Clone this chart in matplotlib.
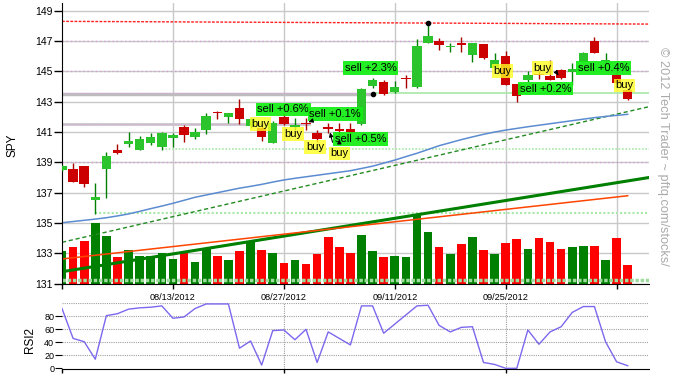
import numpy as np
import matplotlib.pyplot as plt

plt.rcParams['font.family'] = ['Liberation Sans', 'DejaVu Sans']

# SPY daily candles, 07/30/2012 .. 10/10/2012 (trading-day index on x)
opens = [138.50, 138.56, 138.76, 136.52, 138.56, 139.82, 140.23, 139.82, 140.30, 140.03,
         140.63, 141.33, 140.69, 141.14, 142.35, 142.01, 142.60, 141.40, 141.30, 140.30,
         142.00, 141.35, 141.60, 140.96, 141.32, 141.18, 141.18, 141.50, 144.04, 144.32,
         143.66, 144.52, 144.00, 146.89, 147.00, 146.60, 146.85, 146.08, 146.78, 145.20,
         146.03, 144.17, 144.43, 144.85, 144.72, 145.09, 144.99, 145.64, 147.02, 145.66,
         144.76, 143.80]
highs = [138.80, 138.94, 138.76, 137.62, 139.69, 140.20, 141.00, 140.74, 140.96, 141.02,
         140.96, 141.46, 141.27, 142.24, 142.39, 142.28, 143.18, 141.90, 141.50, 141.70,
         142.20, 141.90, 141.90, 141.13, 141.60, 141.58, 141.58, 143.90, 144.54, 144.43,
         144.39, 144.76, 147.11, 148.17, 147.18, 146.89, 147.25, 146.85, 146.78, 146.19,
         146.34, 144.17, 145.03, 145.00, 145.75, 145.15, 145.53, 146.30, 147.29, 146.23,
         145.00, 143.90]
lows = [138.45, 137.70, 137.40, 135.60, 136.67, 139.55, 140.03, 139.82, 140.13, 139.82,
        140.03, 140.36, 140.56, 140.85, 141.88, 141.62, 141.51, 141.30, 140.41, 140.25,
        141.45, 141.14, 141.14, 140.36, 140.92, 140.70, 140.80, 141.45, 143.88, 143.44,
        143.56, 143.92, 143.90, 146.89, 146.41, 146.30, 146.30, 145.64, 145.85, 145.20,
        144.10, 143.00, 144.30, 144.50, 144.40, 144.50, 144.10, 145.60, 146.19, 145.50,
        144.20, 143.10]
closes = [138.76, 137.70, 137.60, 136.74, 139.42, 139.64, 140.41, 140.54, 140.67, 140.94,
          140.80, 140.83, 141.02, 142.06, 142.28, 142.28, 141.84, 141.86, 140.70, 141.58,
          141.55, 141.47, 141.53, 140.52, 141.20, 141.09, 141.02, 143.84, 144.43, 143.51,
          143.99, 144.48, 146.67, 147.33, 146.74, 146.67, 146.76, 146.85, 145.90, 145.75,
          144.10, 143.38, 144.76, 144.78, 144.43, 144.58, 145.14, 146.23, 146.19, 145.75,
          144.25, 143.16]

# volume (relative units, drawn as bars in the price panel)
volume = [2.18, 2.42, 2.81, 4.00, 3.14, 1.78, 2.22, 1.83, 1.83, 2.02,
          1.63, 2.11, 1.45, 2.33, 1.83, 1.56, 2.18, 2.77, 2.22, 2.02,
          1.38, 1.56, 1.30, 1.98, 3.08, 2.42, 2.02, 3.21, 2.16, 1.76,
          1.83, 1.76, 4.55, 3.41, 2.42, 1.96, 2.62, 3.08, 2.22, 1.96,
          2.68, 2.95, 2.29, 3.01, 2.75, 2.29, 2.42, 2.48, 2.48, 1.56,
          3.01, 1.23]
vol_up = "GRRGGRGGGGGRGGRGRGRGRGRRRRRGGRGGGGRGRGRGRRGRRRGGRGRR"

rsi2 = [92, 46, 41, 14, 81, 84, 91, 93, 94, 96,
        77, 79, 92, 99, 99, 99, 31, 42, 5, 58,
        59, 44, 60, 9, 56, 46, 36, 96, 96, 54,
        68, 82, 96, 97, 66, 56, 63, 64, 9, 6,
        0, 0, 59, 37, 56, 64, 86, 95, 95, 41,
        10, 4]

sma = [135.02, 135.10, 135.18, 135.26, 135.35, 135.47, 135.60, 135.77, 135.95, 136.12,
       136.30, 136.50, 136.70, 136.85, 137.00, 137.15, 137.30, 137.42, 137.55, 137.70,
       137.84, 137.95, 138.05, 138.15, 138.25, 138.35, 138.45, 138.60, 138.75, 138.95,
       139.15, 139.38, 139.60, 139.85, 140.10, 140.30, 140.50, 140.68, 140.85, 141.00,
       141.13, 141.24, 141.35, 141.45, 141.55, 141.65, 141.75, 141.85, 141.95, 142.03,
       142.10, 142.17]

tick_pos = [0, 10, 20, 30, 40, 50]
tick_labels = ['', '08/13/2012', '08/27/2012', '09/11/2012', '09/25/2012', '']

# trend / support lines: (x0, y0, x1, y1)
resist_line = (0, 148.30, 52.9, 148.12)
trend_dash = (0, 133.73, 52.9, 142.67)
trend_thick = (0, 131.79, 52.9, 138.00)
trend_orange = (0, 132.63, 51, 136.80)

# signal labels: (text, x, y)
sells = [('sell +0.6%', 17.6, 142.49), ('sell +0.1%', 22.3, 142.19),
         ('sell +0.5%', 24.6, 140.54), ('sell +2.3%', 25.5, 145.22),
         ('sell +0.2%', 41.3, 143.87), ('sell +0.4%', 46.5, 145.22)]
buys = [('buy', 17.1, 141.53), ('buy', 20.0, 140.87), ('buy', 22.0, 140.02),
        ('buy', 24.2, 139.59), ('buy', 38.9, 145.03), ('buy', 42.5, 145.22),
        ('buy', 49.9, 144.07)]

x = np.arange(len(closes))
o = np.array(opens); c = np.array(closes)
h = np.array(highs); l = np.array(lows)

fig = plt.figure(figsize=(6.77, 3.82), dpi=100)
ax = fig.add_axes([62/677, 1-283.7/382, 587/677, 280.4/382])
ax2 = fig.add_axes([62/677, 1-369.3/382, 587/677, 66/382])

# grid
for yv in range(131, 150, 2):
    ax.axhline(yv, color='#c8c8c8', lw=1, zorder=0)
for xv in tick_pos[1:]:
    ax.axvline(xv, color='#c8c8c8', lw=1, zorder=0)
for yv in [147, 145, 139]:
    ax.axhline(yv, color='#d0a0d0', lw=1, ls=(0, (1, 2)), zorder=0.5)

# volume
vcol = ['#008000' if v == 'G' else '#ff0000' for v in vol_up]
ax.bar(x, volume, bottom=131, width=0.78, color=vcol, zorder=1)

# support / resistance
ax.plot([0, 28], [143.5, 143.5], color='#bdbdbd', lw=2.5, zorder=1.5)
ax.plot([0, 28], [143.6, 143.6], color='#e0a8e0', lw=0.8, ls=(0, (1, 1)), zorder=1.6)
ax.plot([0, 22.3], [141.5, 141.5], color='#c8c8c8', lw=2, zorder=1.5)
ax.plot([0, 22.3], [141.55, 141.55], color='#e0a8e0', lw=0.8, ls=(0, (1, 1)), zorder=1.6)
ax.plot([28, 52.9], [143.6, 143.6], color='#a8e8a8', lw=1.2, zorder=1.5)
ax.plot([9, 52.9], [139.85, 139.85], color='#a8e8a8', lw=1.2, ls=(0, (1, 1)), zorder=1.5)
ax.plot([3, 52.9], [135.65, 135.65], color='#a8e8a8', lw=1.5, ls=(0, (1, 1)), zorder=1.5)
ax.plot([0, 52.9], [131.22, 131.22], color='#a0dca0', lw=2.5, ls=(0, (1, 0.5)), zorder=1.5)

ax.plot(resist_line[::2], resist_line[1::2], color='#ff2020', lw=1, ls=(0, (2, 1)), zorder=2)
ax.plot(trend_dash[::2], trend_dash[1::2], color='#228b22', lw=1, ls=(0, (3, 2)), zorder=2)
ax.plot(trend_thick[::2], trend_thick[1::2], color='#008000', lw=2.2, zorder=2)
ax.plot(trend_orange[::2], trend_orange[1::2], color='#ff4500', lw=1.1, zorder=2)
ax.plot(x, sma, color='#5b8bd0', lw=1.1, zorder=2)
ax.plot([33, 28], [148.17, 143.5], 'o', color='k', ms=3, zorder=4)

# candles
up = c >= o
body_lo = np.minimum(o, c)
body_h = np.maximum(np.abs(c - o), 0.07)
wick_col = np.where(up, '#008000', '#aa0000')
face_col = np.where(up, '#2cc42c', '#cc0000')
ax.vlines(x, l, h, colors=wick_col, lw=1, zorder=3)
ax.bar(x, body_h, bottom=body_lo, width=0.85, color=face_col, zorder=3.5)

# signal labels
for s, xs, ys in sells:
    ax.text(xs, ys, s, ha='left', va='center', fontsize=8, zorder=6,
            bbox=dict(boxstyle='square,pad=0.15', fc='#11ee11', ec='none', alpha=0.92))
for s, xs, ys in buys:
    ax.text(xs, ys, s, ha='left', va='center', fontsize=8, zorder=6,
            bbox=dict(boxstyle='square,pad=0.15', fc='#ffff22', ec='none', alpha=0.8))
arw = dict(arrowstyle='-|>', color='k', lw=0.8, mutation_scale=6)
ax.annotate('', xy=(22.0, 141.6), xytext=(22.6, 141.75), arrowprops=arw, zorder=7)
ax.annotate('', xy=(24.1, 141.15), xytext=(24.45, 140.15), arrowprops=arw, zorder=7)
ax.annotate('', xy=(25.0, 140.7), xytext=(25.0, 140.1), arrowprops=arw, zorder=7)
ax.annotate('', xy=(44.9, 144.6), xytext=(44.55, 144.95), arrowprops=arw, zorder=7)

ax.set_xlim(0, 52.92)
ax.set_ylim(131, 149.49)
ax.set_yticks(range(131, 150, 2))
ax.set_xticks(tick_pos)
ax.set_xticklabels(tick_labels)
ax.tick_params(axis='y', length=6, width=1, labelsize=7.5, pad=0.8)
ax.tick_params(axis='x', length=3.4, width=1, labelsize=6.6, pad=3)
for sp in ['top', 'right']:
    ax.spines[sp].set_visible(False)

# RSI panel
for yv in [20, 40, 60, 80, 100]:
    ax2.axhline(yv, color='#a0a0a0', lw=0.8, ls=(0, (1, 1)), zorder=0)
for xv in [20, 40]:
    ax2.axvline(xv, color='#a0a0a0', lw=0.8, ls=(0, (1, 1)), zorder=0)
ax2.plot(x, rsi2, color='#7b68ee', lw=1)
ax2.set_xlim(0, 52.92)
ax2.set_ylim(-1.5, 100)
ax2.set_yticks([0, 20, 40, 60, 80])
ax2.set_xticks([0, 20, 40])
ax2.set_xticklabels([])
ax2.tick_params(axis='y', length=4.8, width=0.8, labelsize=6.5, pad=0.8)
ax2.tick_params(axis='x', length=3, width=1)
for sp in ['top', 'right', 'left']:
    ax2.spines[sp].set_visible(False)

fig.text(13/677, 1-145/382, 'SPY', rotation=90, ha='center', va='center', fontsize=8.5)
fig.text(30/677, 1-340/382, 'RSI2', rotation=90, ha='center', va='center', fontsize=8.5)
fig.text(663/677, 1-156/382, '\u00a9 2012 Tech Trader ~ pftq.com/stocks/', rotation=-90,
         ha='center', va='center', fontsize=9.2, color='#aaaaaa')

fig.savefig('out.png', dpi=100)
